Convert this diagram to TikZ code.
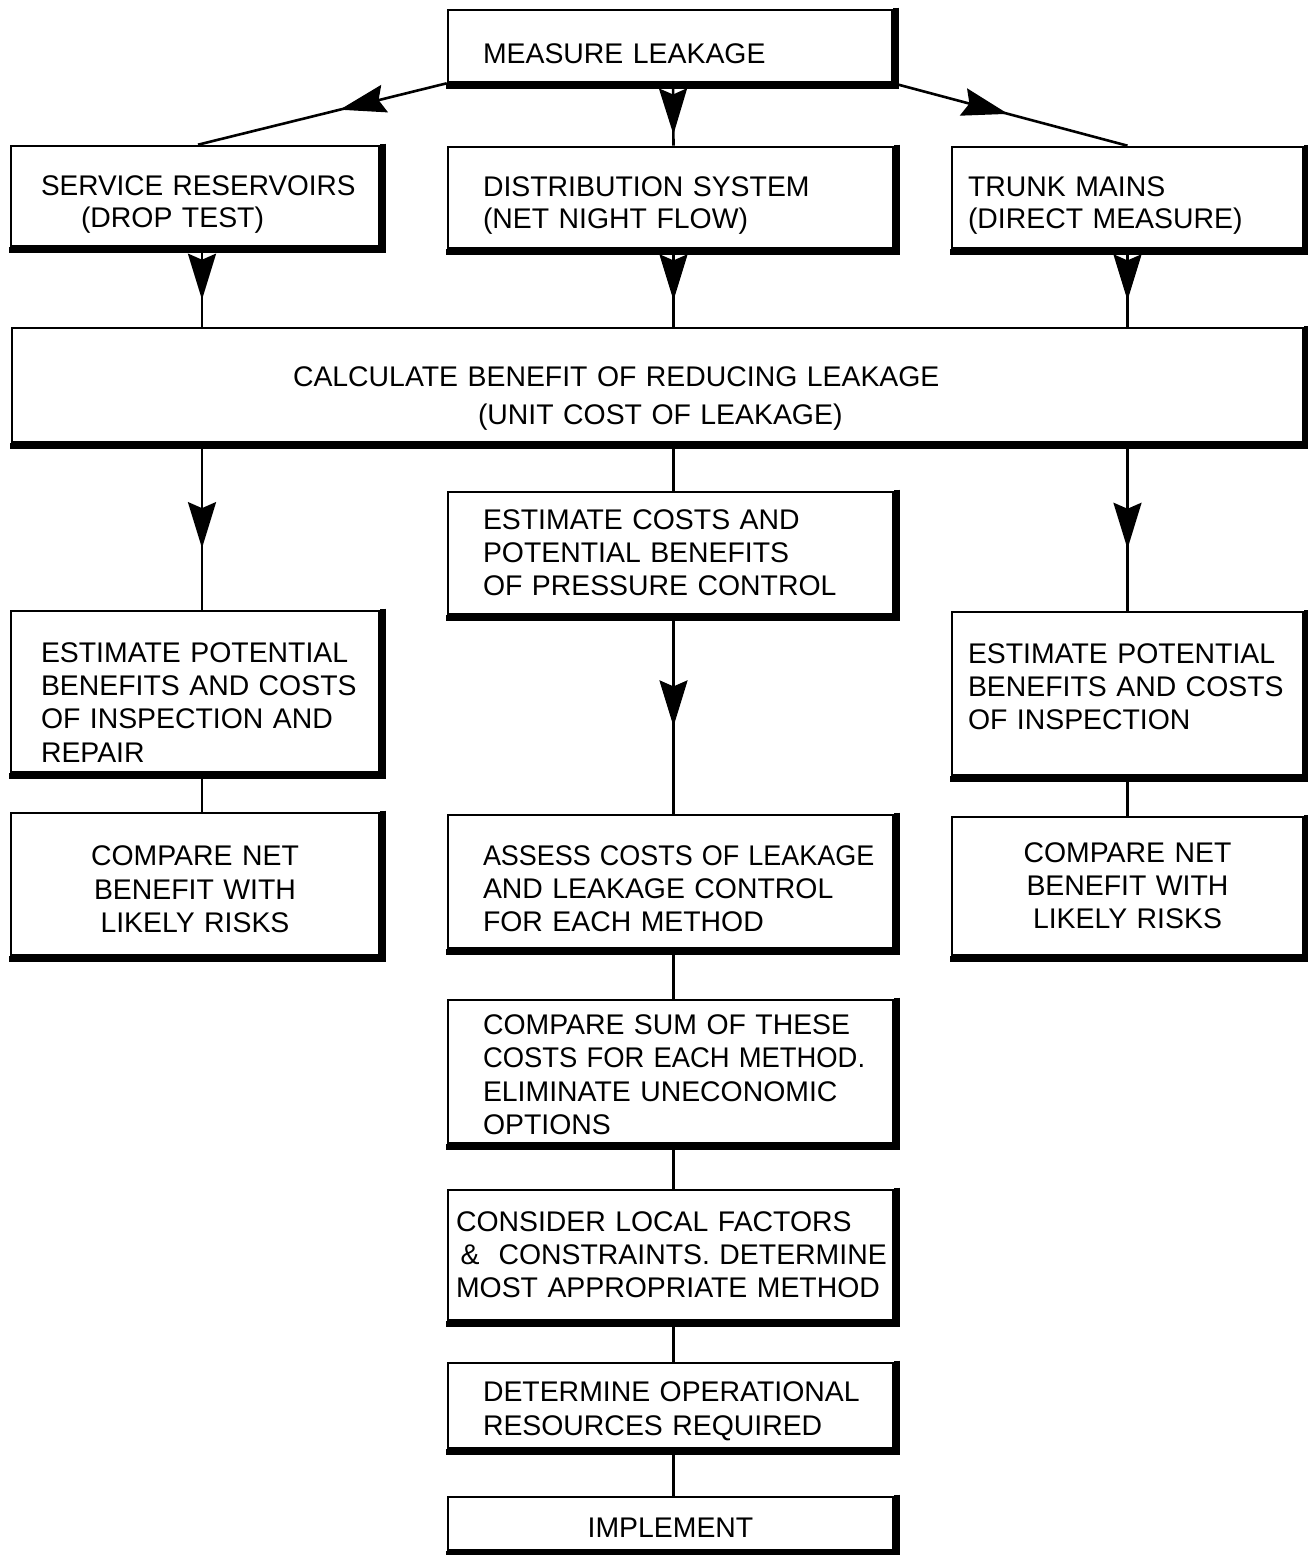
\documentclass[tikz,border=0pt]{standalone}
\usepackage{fontspec}
\setmainfont{Liberation Sans}
\usetikzlibrary{arrows.meta,decorations.markings}
\tikzset{
  box/.style={draw, line width=1.3pt, rectangle, inner ysep=0pt, align=left,
    font=\fontsize{14.2pt}{16.6pt}\selectfont},
  midarr/.style={postaction={decorate}, decoration={markings,
    mark=at position #1 with {\arrow{Stealth[length=23pt,width=14pt,inset=3pt]}}}},
  conn/.style={line width=1.3pt},
  shadowline/.style={line width=3pt, line join=miter},
}
\newcommand{\boxshadow}[1]{\draw[shadowline] ([shift={(2.5,-1)}]#1.north east) -- ([shift={(2.5,2.5)}]#1.south east) -- ([shift={(-1,2.5)}]#1.south west);}
\newcommand{\up}[1]{\rule{0pt}{#1}}
\newcommand{\dn}[1]{\rule[-#1]{0pt}{0pt}}
\newcommand{\narrow}[2]{\scalebox{#1}[1]{#2}}
\begin{document}
\begin{tikzpicture}[x=0.5pt,y=-0.5pt]
\useasboundingbox (0,0) rectangle (1308,1555);

\node[box, minimum width=222pt, minimum height=36pt, text width=187pt, inner xsep=17.5pt] (m) at (670,46) {\up{17.2pt}\mbox{MEASURE LEAKAGE}};

\node[box, minimum width=184pt, minimum height=50pt, text width=154pt, inner xsep=15pt,
  font=\fontsize{14.2pt}{16pt}\selectfont] (sr) at (195,196) {\up{18.2pt}\narrow{0.985}{SERVICE RESERVOIRS}\\\mbox{\hspace*{20pt}(DROP TEST)}};
\node[box, minimum width=222.5pt, minimum height=50.5pt, text width=187.5pt, inner xsep=17.5pt,
  font=\fontsize{14.2pt}{16pt}\selectfont] (ds) at (670.5,197.5) {\up{18.2pt}\mbox{DISTRIBUTION SYSTEM}\\\mbox{(NET NIGHT FLOW)}};
\node[box, minimum width=175.5pt, minimum height=50.5pt, text width=159.5pt, inner xsep=8pt,
  font=\fontsize{14.2pt}{16pt}\selectfont] (tm) at (1127.5,197.5) {\up{18.2pt}\mbox{TRUNK MAINS}\\\mbox{(DIRECT MEASURE)}};

\node[box, minimum width=645.5pt, minimum height=57pt, text width=364.5pt, inner xsep=140.5pt,
  font=\fontsize{14.2pt}{19pt}\selectfont] (calc) at (657.5,385) {\up{23.2pt}\mbox{CALCULATE BENEFIT OF REDUCING LEAKAGE}\\\mbox{\hspace*{92.5pt}(UNIT COST OF LEAKAGE)}};

\node[box, minimum width=222.5pt, minimum height=61pt, text width=187.5pt, inner xsep=17.5pt] (ec) at (670.5,553) {\mbox{ESTIMATE COSTS AND}\\\mbox{POTENTIAL BENEFITS}\\\mbox{OF PRESSURE CONTROL}};

\node[box, minimum width=184pt, minimum height=80.5pt, text width=154pt, inner xsep=15pt] (ep1) at (195,691.5) {\up{20.7pt}\mbox{ESTIMATE POTENTIAL}\\\mbox{BENEFITS AND COSTS}\\\mbox{OF INSPECTION AND}\\\mbox{REPAIR}};
\node[box, minimum width=175.5pt, minimum height=81.5pt, text width=159.5pt, inner xsep=8pt] (ep2) at (1127.5,693.5) {\mbox{ESTIMATE POTENTIAL}\\\mbox{BENEFITS AND COSTS}\\\mbox{OF INSPECTION}\dn{7pt}};

\node[box, minimum width=184pt, minimum height=71pt, text width=168pt, inner xsep=8pt, align=center] (cn1) at (195,884) {\up{15.2pt}\mbox{COMPARE NET}\\\mbox{BENEFIT WITH}\\\mbox{LIKELY RISKS}};
\node[box, minimum width=222.5pt, minimum height=66.5pt, text width=187.5pt, inner xsep=17.5pt] (as) at (670.5,881.5) {\up{17.2pt}\narrow{0.95}{ASSESS COSTS OF LEAKAGE}\\\mbox{AND LEAKAGE CONTROL}\\\mbox{FOR EACH METHOD}};
\node[box, minimum width=175.5pt, minimum height=69pt, text width=159.5pt, inner xsep=8pt, align=center] (cn2) at (1127.5,886) {\mbox{COMPARE NET}\\\mbox{BENEFIT WITH}\\\mbox{LIKELY RISKS}};

\node[box, minimum width=222.5pt, minimum height=71.5pt, text width=187.5pt, inner xsep=17.5pt] (cs) at (670.5,1071.5) {\up{13.2pt}\mbox{COMPARE SUM OF THESE}\\\narrow{0.965}{COSTS FOR EACH METHOD.}\\\mbox{ELIMINATE UNECONOMIC}\\\mbox{OPTIONS}};

\node[box, minimum width=222.5pt, minimum height=65pt, text width=214.5pt, inner xsep=4pt] (co) at (670.5,1255) {\mbox{CONSIDER LOCAL FACTORS}\\\mbox{\,\&\ \ CONSTRAINTS. DETERMINE}\\\mbox{MOST APPROPRIATE METHOD}};

\node[box, minimum width=222.5pt, minimum height=42.5pt, text width=187.5pt, inner xsep=17.5pt,
  font=\fontsize{14.2pt}{17pt}\selectfont] (dt) at (670.5,1405.5) {\up{15.7pt}\mbox{DETERMINE OPERATIONAL}\\\mbox{RESOURCES REQUIRED}};

\node[box, minimum width=222.5pt, minimum height=26.5pt, text width=187.5pt, inner xsep=17.5pt, align=center] (im) at (670.5,1523.5) {\up{14.2pt}\mbox{IMPLEMENT}};

\foreach \n in {m,sr,ds,tm,calc,ec,ep1,ep2,cn1,as,cn2,cs,co,dt,im} {\boxshadow{\n}}

% connectors
\draw[conn, midarr=0.43] (m.south west) -- ([xshift=1.5pt]sr.north);
\draw[conn, midarr=0.82] ([xshift=1.5pt]m.south) -- ([xshift=1.5pt]ds.north);
\draw[conn, midarr=0.49] (m.south east) -- (tm.north);

\draw[conn, midarr=0.66] ([xshift=3.5pt]sr.south) -- ([xshift=3.5pt]sr.south |- calc.north);
\draw[conn, midarr=0.66] ([xshift=1.5pt]ds.south) -- ([xshift=1.5pt]ds.south |- calc.north);
\draw[conn, midarr=0.66] (tm.south) -- (tm.south |- calc.north);

\draw[conn, midarr=0.63] ([xshift=3.5pt]calc.south -| ep1.north) -- ([xshift=3.5pt]ep1.north);
\draw[conn] ([xshift=1.5pt]calc.south -| ec.north) -- ([xshift=1.5pt]ec.north);
\draw[conn, midarr=0.63] (calc.south -| ep2.north) -- (ep2.north);

\draw[conn, midarr=0.56] ([xshift=1.5pt]ec.south) -- ([xshift=1.5pt]as.north);
\draw[conn] ([xshift=3.5pt]ep1.south) -- ([xshift=3.5pt]cn1.north);
\draw[conn] (ep2.south) -- (cn2.north);
\draw[conn] ([xshift=1.5pt]as.south) -- ([xshift=1.5pt]cs.north);
\draw[conn] ([xshift=1.5pt]cs.south) -- ([xshift=1.5pt]co.north);
\draw[conn] ([xshift=1.5pt]co.south) -- ([xshift=1.5pt]dt.north);
\draw[conn] ([xshift=1.5pt]dt.south) -- ([xshift=1.5pt]im.north);
\end{tikzpicture}
\end{document}
